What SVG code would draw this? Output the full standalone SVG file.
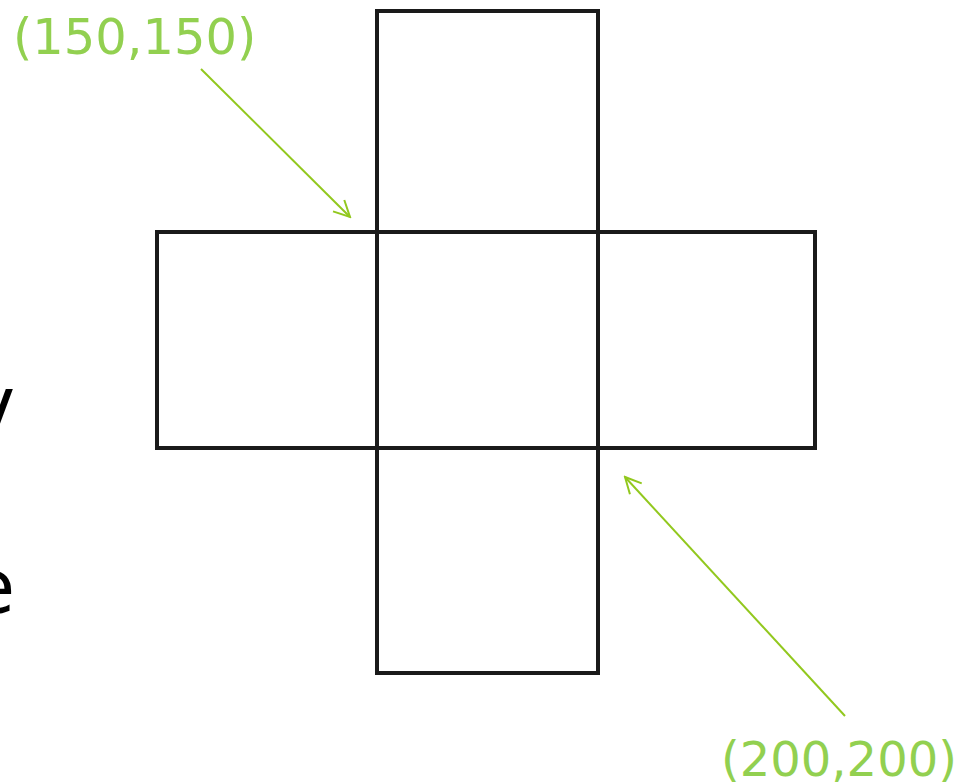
<svg xmlns="http://www.w3.org/2000/svg" width="969" height="783" viewBox="0 0 969 783">
<defs>
<style>
.box{fill:none;stroke:#1a1a1a;stroke-width:4;stroke-linejoin:miter}
.lbl{font-family:"DejaVu Sans",Verdana,sans-serif;font-size:48px;fill:#92D050}
.frag{font-family:"DejaVu Sans",sans-serif;font-size:74px;fill:#000}
.arr{stroke:#92C81E;stroke-width:2;fill:none}
</style>
<marker id="ah" viewBox="0 0 20 20" refX="18" refY="10" markerWidth="20" markerHeight="20" markerUnits="userSpaceOnUse" orient="auto">
<path d="M2,2 L18,10 L2,18" fill="none" stroke="#92C81E" stroke-width="2"/>
</marker>
</defs>
<rect width="969" height="783" fill="#fff"/>
<text class="frag" x="15" y="430" text-anchor="end">v</text>
<text class="frag" x="15" y="613" text-anchor="end">e</text>
<g id="top"><rect class="box" x="377" y="11" width="221" height="221"/></g>
<g id="left"><rect class="box" x="157" y="232" width="220" height="216"/></g>
<g id="center"><rect class="box" x="377" y="232" width="221" height="216"/></g>
<g id="right"><rect class="box" x="598" y="232" width="217" height="216"/></g>
<g id="bottom"><rect class="box" x="377" y="448" width="221" height="225"/></g>
<g id="label1"><text class="lbl" x="13" y="54" style="font-size:49.5px">(150,150)</text></g>
<g id="label2"><text class="lbl" x="721" y="776">(200,200)</text></g>
<g id="connectors">
<line class="arr" x1="201" y1="69" x2="350" y2="217" marker-end="url(#ah)"/>
<line class="arr" x1="845" y1="716" x2="625" y2="477" marker-end="url(#ah)"/>
</g>
</svg>
